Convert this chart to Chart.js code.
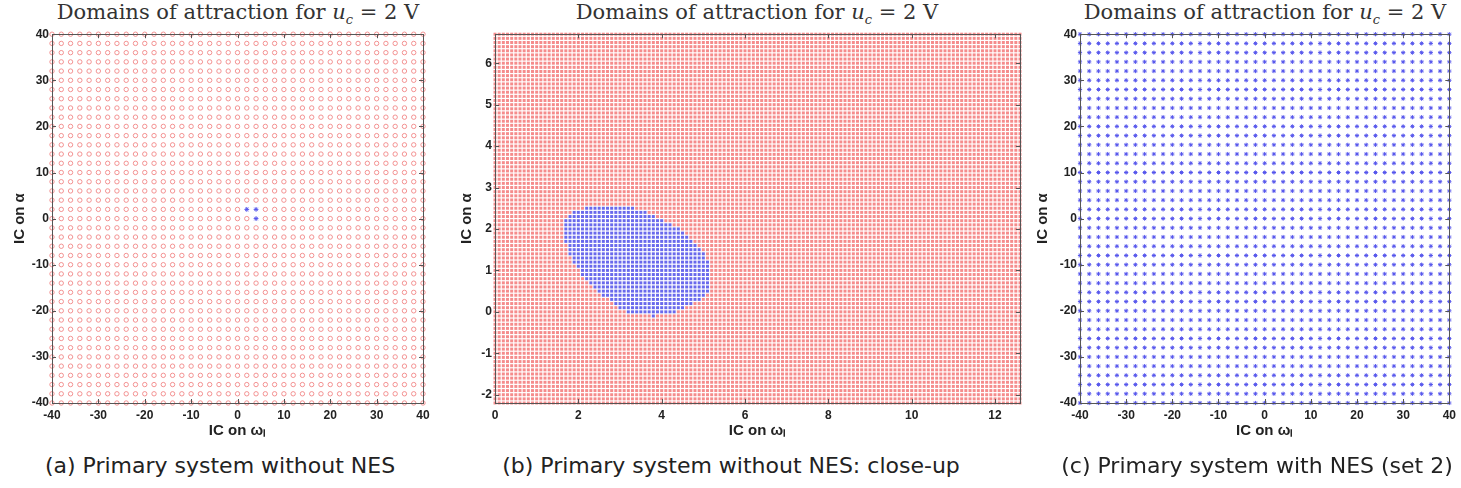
<!DOCTYPE html>
<html>
<head>
<meta charset="utf-8">
<script src="https://cdn.jsdelivr.net/npm/chart.js@4.4.1/dist/chart.umd.min.js"></script>
<style>
  body{margin:0;background:#fff;width:1461px;height:488px;position:relative;overflow:hidden}
  canvas{position:absolute}
  .ttl{position:absolute;top:0;font-family:"DejaVu Serif",serif;font-size:21px;color:#333;white-space:nowrap;transform:translateX(-50%)}
  .ttl sub{font-size:13px}
  .cap{position:absolute;top:453px;font-family:"DejaVu Sans",sans-serif;font-size:22px;color:#222;white-space:nowrap;transform:translateX(-50%)}
</style>
</head>
<body>
<div class="ttl" style="left:238px">Domains of attraction for <i>u<sub>c</sub></i> = 2 V</div>
<div class="ttl" style="left:757px">Domains of attraction for <i>u<sub>c</sub></i> = 2 V</div>
<div class="ttl" style="left:1265px">Domains of attraction for <i>u<sub>c</sub></i> = 2 V</div>

<canvas id="chartA" width="445" height="422" style="left:0;top:24px"></canvas>
<canvas id="chartB" width="590" height="422" style="left:445px;top:24px"></canvas>
<canvas id="chartC" width="431" height="422" style="left:1030px;top:24px"></canvas>

<div class="cap" style="left:220px">(a) Primary system without NES</div>
<div class="cap" style="left:731px">(b) Primary system without NES: close-up</div>
<div class="cap" style="left:1257px">(c) Primary system with NES (set 2)</div>

<script>
// tick labels
const wideTicks = [-40, -30, -20, -10, 0, 10, 20, 30, 40];
const zoomTicksX = [0, 2, 4, 6, 8, 10, 12];
const zoomTicksY = [-2, -1, 0, 1, 2, 3, 4, 5, 6];

// initial condition grids: [start, end, step]
const wideGrid = [-40, 40, 2];
const zoomGridX = [0, 12.6, 0.1];
const zoomGridY = [-2.2, 6.7, 0.1];

// (a) the few ICs that end up in the blue attractor
const blueA = [[2, 2], [4, 2], [4, 0]];

// (b) blue basin, row by row: IC on alpha and the omega span that is blue
const basinY    = [2.5, 2.4, 2.3, 2.2, 2.1, 2.0, 1.9, 1.8, 1.7, 1.6, 1.5, 1.4, 1.3, 1.2, 1.1, 1.0, 0.9, 0.8, 0.7, 0.6, 0.5, 0.4, 0.3, 0.2, 0.1, 0.0, -0.1];
const basinXmin = [2.2, 1.9, 1.8, 1.7, 1.7, 1.7, 1.7, 1.7, 1.7, 1.8, 1.8, 1.8, 1.9, 1.9, 2.0, 2.1, 2.1, 2.2, 2.3, 2.4, 2.5, 2.6, 2.8, 2.9, 3.0, 3.2, 3.8];
const basinXmax = [3.3, 3.6, 3.8, 4.0, 4.2, 4.4, 4.5, 4.6, 4.7, 4.8, 4.9, 5.0, 5.0, 5.1, 5.1, 5.1, 5.1, 5.1, 5.1, 5.1, 5.1, 5.0, 4.9, 4.7, 4.5, 4.3, 3.8];

const red = 'rgb(242,135,135)';
const blue = 'rgb(85,85,236)';

function steps(g){
  const out = [];
  const n = Math.round((g[1] - g[0]) / g[2]);
  for(let i = 0; i <= n; i++) out.push(Math.round((g[0] + i * g[2]) * 10) / 10);
  return out;
}

function inBasinB(x, y){
  const i = basinY.findIndex(v => Math.abs(v - y) < 1e-6);
  if(i < 0) return false;
  return x >= basinXmin[i] - 1e-6 && x <= basinXmax[i] + 1e-6;
}

// frame + inward ticks on all four sides (matlab look)
const boxPlugin = {
  id: 'box',
  afterDatasetsDraw(chart){
    const {ctx, chartArea: a, scales: {x, y}} = chart;
    ctx.save();
    ctx.strokeStyle = '#555';
    ctx.lineWidth = 1;
    ctx.strokeRect(Math.round(a.left) + 0.5, Math.round(a.top) + 0.5, Math.round(a.right - a.left), Math.round(a.bottom - a.top));
    ctx.beginPath();
    x.ticks.forEach(t => {
      const p = Math.round(x.getPixelForValue(t.value)) + 0.5;
      ctx.moveTo(p, a.bottom); ctx.lineTo(p, a.bottom - 4);
      ctx.moveTo(p, a.top); ctx.lineTo(p, a.top + 4);
    });
    y.ticks.forEach(t => {
      const p = Math.round(y.getPixelForValue(t.value)) + 0.5;
      ctx.moveTo(a.left, p); ctx.lineTo(a.left + 4, p);
      ctx.moveTo(a.right, p); ctx.lineTo(a.right - 4, p);
    });
    ctx.stroke();
    ctx.restore();
  }
};

const tickFont = {family: '"Liberation Sans", Arial, sans-serif', size: 12, weight: 'bold'};
const titleFont = {family: '"Liberation Sans", Arial, sans-serif', size: 15, weight: 'bold'};

function makePanel(id, datasets, o){
  return new Chart(document.getElementById(id), {
    type: 'scatter',
    data: {datasets},
    options: {
      responsive: false,
      animation: false,
      devicePixelRatio: 1,
      events: [],
      layout: {padding: {left: 0, right: o.padRight, top: 10, bottom: 0}},
      plugins: {legend: {display: false}, tooltip: {enabled: false}},
      scales: {
        x: {
          type: 'linear', min: o.xr[0], max: o.xr[1],
          grid: {display: false, drawTicks: false}, border: {display: false},
          afterBuildTicks: s => { s.ticks = o.xt.map(v => ({value: v})); },
          afterFit: s => { s.height = 43; },
          ticks: {font: tickFont, color: '#222', padding: 5, maxRotation: 0, autoSkip: false},
          title: {display: true, text: 'IC on ωₗ', font: titleFont, color: '#222', padding: {top: 0, bottom: 6}}
        },
        y: {
          type: 'linear', min: o.yr[0], max: o.yr[1],
          grid: {display: false, drawTicks: false}, border: {display: false},
          afterBuildTicks: s => { s.ticks = o.yt.map(v => ({value: v})); },
          afterFit: s => { s.width = o.yWidth; },
          ticks: {font: tickFont, color: '#222', padding: 3, autoSkip: false},
          title: {display: true, text: 'IC on α', font: titleFont, color: '#222', padding: {top: o.yTitlePad, bottom: 0}}
        }
      }
    },
    plugins: [boxPlugin]
  });
}

// (a) wide grid, almost everything red
const wide = steps(wideGrid);
const aRed = [], aBlue = [];
for(const y of wide){
  for(const x of wide){
    const isBlue = blueA.some(p => p[0] === x && p[1] === y);
    (isBlue ? aBlue : aRed).push({x, y});
  }
}
makePanel('chartA', [
  {data: aRed, pointStyle: 'circle', pointRadius: 2.2, borderColor: red, borderWidth: 0.9, backgroundColor: 'transparent', clip: false},
  {data: aBlue, pointStyle: 'star', pointRadius: 2.4, borderColor: blue, borderWidth: 1, backgroundColor: blue, clip: false}
], {xr: [-40, 40], yr: [-40, 40], xt: wideTicks, yt: wideTicks, yWidth: 52, padRight: 22, yTitlePad: 11});

// (b) close-up
const bx = steps(zoomGridX), by = steps(zoomGridY);
const bRed = [], bBlue = [];
for(const y of by){
  for(const x of bx){
    (inBasinB(x, y) ? bBlue : bRed).push({x, y});
  }
}
makePanel('chartB', [
  {data: bRed, pointStyle: 'rect', pointRadius: 2.1, borderWidth: 0, backgroundColor: 'rgb(245,140,140)', clip: false},
  {data: bBlue, pointStyle: 'rect', pointRadius: 2.1, borderWidth: 0, backgroundColor: 'rgb(105,105,236)', clip: false}
], {xr: [0, 12.6], yr: [-2.2, 6.7], xt: zoomTicksX, yt: zoomTicksY, yWidth: 50, padRight: 15, yTitlePad: 13});

// (c) with NES: every IC goes blue
const cBlue = [];
for(const y of wide){
  for(const x of wide) cBlue.push({x, y});
}
makePanel('chartC', [
  {data: cBlue, pointStyle: 'star', pointRadius: 2.1, borderColor: blue, borderWidth: 1, backgroundColor: blue, clip: false}
], {xr: [-40, 40], yr: [-40, 40], xt: wideTicks, yt: wideTicks, yWidth: 50, padRight: 10, yTitlePad: 4});
</script>
</body>
</html>
